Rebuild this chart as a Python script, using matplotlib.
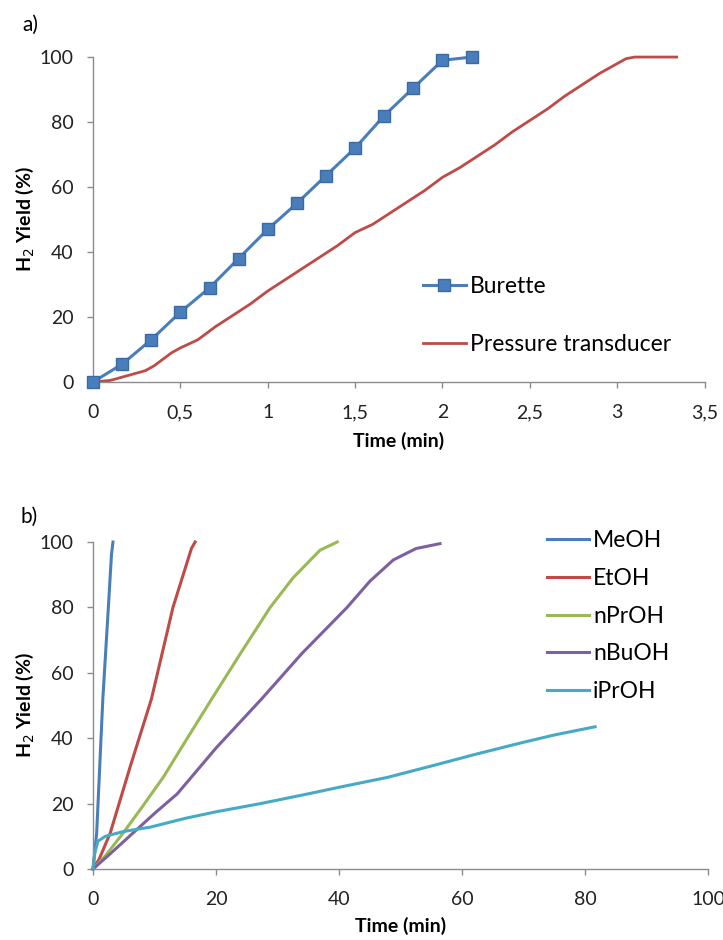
import matplotlib
matplotlib.use("Agg")
import matplotlib.pyplot as plt

plt.rcParams["font.family"] = ["Lato", "DejaVu Sans"]

# --- panel a) data ---
burette_t = [0, 0.167, 0.333, 0.5, 0.667, 0.833, 1.0, 1.167, 1.333, 1.5, 1.667, 1.833, 2.0, 2.167]
burette_y = [0, 5.5, 13, 21.5, 29, 38, 47, 55, 63.5, 72, 82, 90.5, 99, 100]

pressure_t = [0, 0.1, 0.2, 0.3, 0.35, 0.45, 0.5, 0.6, 0.7, 0.8, 0.9, 1.0, 1.1, 1.2,
              1.3, 1.4, 1.5, 1.6, 1.7, 1.8, 1.9, 2.0, 2.1, 2.2, 2.3, 2.4, 2.5, 2.6,
              2.7, 2.8, 2.9, 3.0, 3.05, 3.1, 3.2, 3.34]
pressure_y = [0, 0.5, 2, 3.5, 5, 9, 10.5, 13, 17, 20.5, 24, 28, 31.5, 35,
              38.5, 42, 46, 48.5, 52, 55.5, 59, 63, 66, 69.5, 73, 77, 80.5, 84,
              88, 91.5, 95, 98, 99.5, 100, 100, 100]

a_xticks = [0, 0.5, 1, 1.5, 2, 2.5, 3, 3.5]
a_xticklabels = ["0", "0,5", "1", "1,5", "2", "2,5", "3", "3,5"]

# --- panel b) data ---
meoh_t = [0, 0.6, 1.6, 2.5, 3.0, 3.25]
meoh_y = [0, 11, 52, 80, 96, 100]
etoh_t = [0, 1, 2.8, 6, 9.5, 13, 15, 16, 16.6]
etoh_y = [0, 3, 11, 31, 52, 80, 92, 98, 100]
nproh_t = [0, 2, 4.9, 8, 11.4, 15, 19.3, 24, 28.8, 32.5, 36.9, 39.7]
nproh_y = [0, 4, 11, 19, 28, 39, 52, 66, 80, 89, 97.5, 100]
nbuoh_t = [0, 3, 6.5, 10, 13.7, 20, 27.4, 34, 41.3, 45, 48.8, 52.5, 56.4]
nbuoh_y = [0, 5, 11, 17, 23, 37, 52, 66, 80, 88, 94.5, 98, 99.5]
iproh_t = [0, 0.3, 0.8, 2, 5, 9.3, 15, 20, 27.2, 35, 40, 47.8, 55, 62, 69.4, 75, 81.6]
iproh_y = [0, 5, 8.5, 10, 11.5, 12.8, 15.5, 17.5, 20, 23, 25, 28, 31.5, 35, 38.5, 41, 43.5]

b_xticks = [0, 20, 40, 60, 80, 100]
yticks = [0, 20, 40, 60, 80, 100]

BLUE = "#4A7EBB"
RED = "#BE4B48"
GREEN = "#98B954"
PURPLE = "#7D60A0"
CYAN = "#46AAC5"
AXIS = "#8C8C8C"


def style_axes(ax, xlabelpad):
    for side in ("top", "right"):
        ax.spines[side].set_visible(False)
    for side in ("left", "bottom"):
        ax.spines[side].set_color(AXIS)
        ax.spines[side].set_linewidth(1.0)
    ax.tick_params(axis="both", colors=AXIS, labelcolor="#222222", labelsize=14,
                   length=4, width=1.0, direction="out")
    ax.tick_params(axis="y", pad=10)
    ax.tick_params(axis="x", pad=12)
    ax.set_yticks(yticks)
    ax.set_ylim(0, 100)
    ax.set_ylabel("H$_2$ Yield (%)", fontsize=14, fontweight="bold", labelpad=2.5)
    ax.set_xlabel("Time (min)", fontsize=14, fontweight="bold", labelpad=xlabelpad)


fig = plt.figure(figsize=(7.23, 9.40), dpi=100)

# panel a
ax1 = fig.add_axes([0.1286, 0.5936, 0.846, 0.3457])
ax1.plot(burette_t, burette_y, color=BLUE, lw=2.2, marker="s", ms=8,
         mfc=BLUE, mec="#3A6AA5", label="Burette", clip_on=False, zorder=3)
ax1.plot(pressure_t, pressure_y, color=RED, lw=2.0, label="Pressure transducer",
         clip_on=False, zorder=2)
ax1.set_xlim(0, 3.5)
ax1.set_xticks(a_xticks)
ax1.set_xticklabels(a_xticklabels)
style_axes(ax1, 8)
ax1.legend(loc="upper left", bbox_to_anchor=(0.539, 0.327), frameon=False,
           fontsize=16.5, handlelength=1.9, handletextpad=0.15, labelspacing=1.62,
           borderpad=0, borderaxespad=0)

# panel b
ax2 = fig.add_axes([0.1286, 0.0755, 0.851, 0.3479])
ax2.plot(meoh_t, meoh_y, color=BLUE, lw=2.2, label="MeOH", clip_on=False)
ax2.plot(etoh_t, etoh_y, color=RED, lw=2.2, label="EtOH", clip_on=False)
ax2.plot(nproh_t, nproh_y, color=GREEN, lw=2.2, label="nPrOH", clip_on=False)
ax2.plot(nbuoh_t, nbuoh_y, color=PURPLE, lw=2.2, label="nBuOH", clip_on=False)
ax2.plot(iproh_t, iproh_y, color=CYAN, lw=2.2, label="iPrOH", clip_on=False)
ax2.set_xlim(0, 100)
ax2.set_xticks(b_xticks)
style_axes(ax2, 6.5)
ax2.legend(loc="upper left", bbox_to_anchor=(0.738, 1.036), frameon=False,
           fontsize=16.5, handlelength=1.85, handletextpad=0.15, labelspacing=0.73,
           borderpad=0, borderaxespad=0)

fig.text(22 / 723, 1 - 25 / 940, "a)", fontsize=15, ha="left", va="center")
fig.text(20 / 723, 1 - 517 / 940, "b)", fontsize=15, ha="left", va="center")

fig.savefig("out.png", dpi=100)
